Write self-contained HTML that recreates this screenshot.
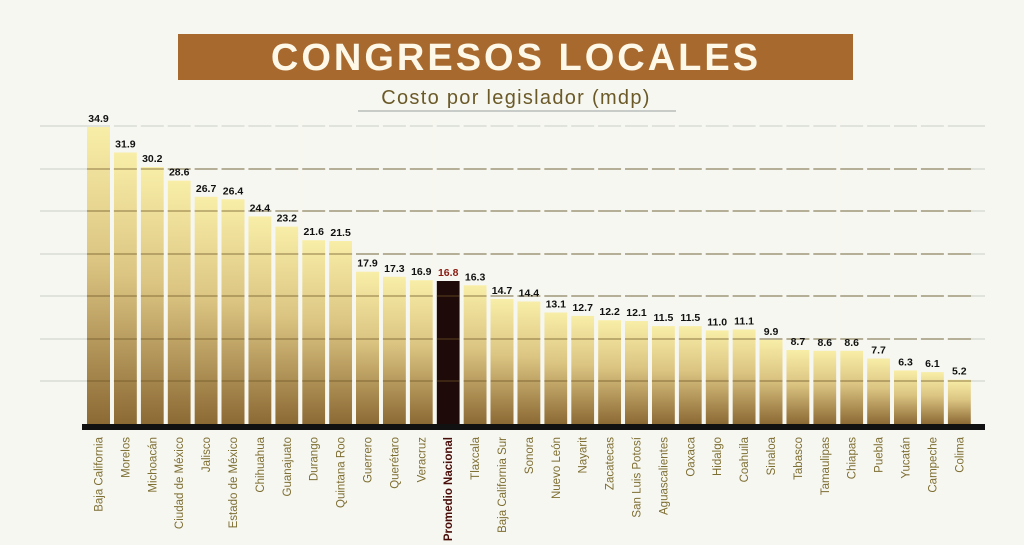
<!DOCTYPE html>
<html><head><meta charset="utf-8"><style>
html,body{margin:0;padding:0;background:#f7f7f1;}
svg{display:block;font-family:"Liberation Sans",sans-serif;}
.v{font-size:10.5px;font-weight:bold;fill:#111;text-anchor:middle;}
.n{font-size:11.5px;fill:#7d6e32;text-anchor:end;}
</style></head><body>
<svg width="1024" height="545" viewBox="0 0 1024 545" xmlns="http://www.w3.org/2000/svg">
<defs>
<linearGradient id="g" x1="0" y1="0" x2="0" y2="1">
<stop offset="0" stop-color="#f8eea8"/><stop offset="0.45" stop-color="#dcc583"/><stop offset="1" stop-color="#8c6a34"/>
</linearGradient>
</defs>
<rect width="1024" height="545" fill="#f7f7f1"/>
<rect x="178" y="34" width="675" height="46" fill="#a8692e"/>
<text x="516" y="70" text-anchor="middle" font-size="38" font-weight="bold" fill="#fdf8e8" letter-spacing="3">CONGRESOS LOCALES</text>
<text x="516" y="104" text-anchor="middle" font-size="20" fill="#6b5a28" letter-spacing="1.3">Costo por legislador (mdp)</text>
<line x1="358" y1="111" x2="676" y2="111" stroke="#9aa0a0" stroke-width="1"/>
<g stroke="#d3d6cf" stroke-width="1.2">
<line x1="40" y1="126" x2="985" y2="126"/><line x1="40" y1="169" x2="985" y2="169"/><line x1="40" y1="211" x2="985" y2="211"/><line x1="40" y1="254" x2="985" y2="254"/><line x1="40" y1="296" x2="985" y2="296"/><line x1="40" y1="339" x2="985" y2="339"/><line x1="40" y1="381" x2="985" y2="381"/>
</g>
<g fill="url(#g)">
<rect x="87" y="127" width="23" height="297"/>
<rect x="113.9" y="152.5" width="23" height="271.5"/>
<rect x="140.8" y="167" width="23" height="257"/>
<rect x="167.7" y="180.6" width="23" height="243.4"/>
<rect x="194.6" y="196.8" width="23" height="227.2"/>
<rect x="221.5" y="199.3" width="23" height="224.7"/>
<rect x="248.4" y="216.4" width="23" height="207.6"/>
<rect x="275.3" y="226.6" width="23" height="197.4"/>
<rect x="302.2" y="240.2" width="23" height="183.8"/>
<rect x="329.1" y="241" width="23" height="183"/>
<rect x="356" y="271.7" width="23" height="152.3"/>
<rect x="382.9" y="276.8" width="23" height="147.2"/>
<rect x="409.8" y="280.2" width="23" height="143.8"/>
<rect x="463.6" y="285.3" width="23" height="138.7"/>
<rect x="490.5" y="298.9" width="23" height="125.1"/>
<rect x="517.4" y="301.5" width="23" height="122.5"/>
<rect x="544.3" y="312.5" width="23" height="111.5"/>
<rect x="571.2" y="315.9" width="23" height="108.1"/>
<rect x="598.1" y="320.2" width="23" height="103.8"/>
<rect x="625" y="321" width="23" height="103"/>
<rect x="651.9" y="326.1" width="23" height="97.9"/>
<rect x="678.8" y="326.1" width="23" height="97.9"/>
<rect x="705.7" y="330.4" width="23" height="93.6"/>
<rect x="732.6" y="329.5" width="23" height="94.5"/>
<rect x="759.5" y="339.8" width="23" height="84.2"/>
<rect x="786.4" y="350" width="23" height="74"/>
<rect x="813.3" y="350.8" width="23" height="73.2"/>
<rect x="840.2" y="350.8" width="23" height="73.2"/>
<rect x="867.1" y="358.5" width="23" height="65.5"/>
<rect x="894" y="370.4" width="23" height="53.6"/>
<rect x="920.9" y="372.1" width="23" height="51.9"/>
<rect x="947.8" y="379.7" width="23" height="44.3"/>
</g>
<rect x="436.7" y="281" width="23" height="143" fill="#1e0a08"/>
<g stroke="#6e5526" stroke-opacity="0.5" stroke-width="1.5">
<line x1="87" y1="169" x2="971" y2="169"/><line x1="87" y1="211" x2="971" y2="211"/><line x1="87" y1="254" x2="971" y2="254"/><line x1="87" y1="296" x2="971" y2="296"/><line x1="87" y1="339" x2="971" y2="339"/><line x1="87" y1="381" x2="971" y2="381"/>
</g>
<g fill="#f7f7f1">
<rect x="110" y="120" width="3.9" height="305"/><rect x="136.9" y="120" width="3.9" height="305"/><rect x="163.8" y="120" width="3.9" height="305"/><rect x="190.7" y="120" width="3.9" height="305"/><rect x="217.6" y="120" width="3.9" height="305"/><rect x="244.5" y="120" width="3.9" height="305"/><rect x="271.4" y="120" width="3.9" height="305"/><rect x="298.3" y="120" width="3.9" height="305"/><rect x="325.2" y="120" width="3.9" height="305"/><rect x="352.1" y="120" width="3.9" height="305"/><rect x="379" y="120" width="3.9" height="305"/><rect x="405.9" y="120" width="3.9" height="305"/><rect x="432.8" y="120" width="3.9" height="305"/><rect x="459.7" y="120" width="3.9" height="305"/><rect x="486.6" y="120" width="3.9" height="305"/><rect x="513.5" y="120" width="3.9" height="305"/><rect x="540.4" y="120" width="3.9" height="305"/><rect x="567.3" y="120" width="3.9" height="305"/><rect x="594.2" y="120" width="3.9" height="305"/><rect x="621.1" y="120" width="3.9" height="305"/><rect x="648" y="120" width="3.9" height="305"/><rect x="674.9" y="120" width="3.9" height="305"/><rect x="701.8" y="120" width="3.9" height="305"/><rect x="728.7" y="120" width="3.9" height="305"/><rect x="755.6" y="120" width="3.9" height="305"/><rect x="782.5" y="120" width="3.9" height="305"/><rect x="809.4" y="120" width="3.9" height="305"/><rect x="836.3" y="120" width="3.9" height="305"/><rect x="863.2" y="120" width="3.9" height="305"/><rect x="890.1" y="120" width="3.9" height="305"/><rect x="917" y="120" width="3.9" height="305"/><rect x="943.9" y="120" width="3.9" height="305"/>
</g>
<rect x="82" y="424" width="903" height="6" fill="#111"/>
<g class="v">
<text x="98.5" y="122">34.9</text><text x="125.4" y="147.5">31.9</text><text x="152.3" y="162">30.2</text><text x="179.2" y="175.6">28.6</text><text x="206.1" y="191.8">26.7</text><text x="233" y="194.3">26.4</text><text x="259.9" y="211.4">24.4</text><text x="286.8" y="221.6">23.2</text><text x="313.7" y="235.2">21.6</text><text x="340.6" y="236">21.5</text><text x="367.5" y="266.7">17.9</text><text x="394.4" y="271.8">17.3</text><text x="421.3" y="275.2">16.9</text><text x="448.2" y="276" fill="#8a1a10">16.8</text><text x="475.1" y="280.3">16.3</text><text x="502" y="293.9">14.7</text><text x="528.9" y="296.5">14.4</text><text x="555.8" y="307.5">13.1</text><text x="582.7" y="310.9">12.7</text><text x="609.6" y="315.2">12.2</text><text x="636.5" y="316">12.1</text><text x="663.4" y="321.1">11.5</text><text x="690.3" y="321.1">11.5</text><text x="717.2" y="325.4">11.0</text><text x="744.1" y="324.5">11.1</text><text x="771" y="334.8">9.9</text><text x="797.9" y="345">8.7</text><text x="824.8" y="345.8">8.6</text><text x="851.7" y="345.8">8.6</text><text x="878.6" y="353.5">7.7</text><text x="905.5" y="365.4">6.3</text><text x="932.4" y="367.1">6.1</text><text x="959.3" y="374.7">5.2</text>
</g>
<g class="n">
<text transform="translate(102.5,437) rotate(-90)">Baja California</text>
<text transform="translate(129.4,437) rotate(-90)">Morelos</text>
<text transform="translate(156.3,437) rotate(-90)">Michoacán</text>
<text transform="translate(183.2,437) rotate(-90)">Ciudad de México</text>
<text transform="translate(210.1,437) rotate(-90)">Jalisco</text>
<text transform="translate(237,437) rotate(-90)">Estado de México</text>
<text transform="translate(263.9,437) rotate(-90)">Chihuahua</text>
<text transform="translate(290.8,437) rotate(-90)">Guanajuato</text>
<text transform="translate(317.7,437) rotate(-90)">Durango</text>
<text transform="translate(344.6,437) rotate(-90)">Quintana Roo</text>
<text transform="translate(371.5,437) rotate(-90)">Guerrero</text>
<text transform="translate(398.4,437) rotate(-90)">Querétaro</text>
<text transform="translate(425.3,437) rotate(-90)">Veracruz</text>
<text transform="translate(452.2,437) rotate(-90)" fill="#4a0e0a" font-weight="bold">Promedio Nacional</text>
<text transform="translate(479.1,437) rotate(-90)">Tlaxcala</text>
<text transform="translate(506,437) rotate(-90)">Baja California Sur</text>
<text transform="translate(532.9,437) rotate(-90)">Sonora</text>
<text transform="translate(559.8,437) rotate(-90)">Nuevo León</text>
<text transform="translate(586.7,437) rotate(-90)">Nayarit</text>
<text transform="translate(613.6,437) rotate(-90)">Zacatecas</text>
<text transform="translate(640.5,437) rotate(-90)">San Luis Potosí</text>
<text transform="translate(667.4,437) rotate(-90)">Aguascalientes</text>
<text transform="translate(694.3,437) rotate(-90)">Oaxaca</text>
<text transform="translate(721.2,437) rotate(-90)">Hidalgo</text>
<text transform="translate(748.1,437) rotate(-90)">Coahuila</text>
<text transform="translate(775,437) rotate(-90)">Sinaloa</text>
<text transform="translate(801.9,437) rotate(-90)">Tabasco</text>
<text transform="translate(828.8,437) rotate(-90)">Tamaulipas</text>
<text transform="translate(855.7,437) rotate(-90)">Chiapas</text>
<text transform="translate(882.6,437) rotate(-90)">Puebla</text>
<text transform="translate(909.5,437) rotate(-90)">Yucatán</text>
<text transform="translate(936.4,437) rotate(-90)">Campeche</text>
<text transform="translate(963.3,437) rotate(-90)">Colima</text>
</g>
</svg>
</body></html>
